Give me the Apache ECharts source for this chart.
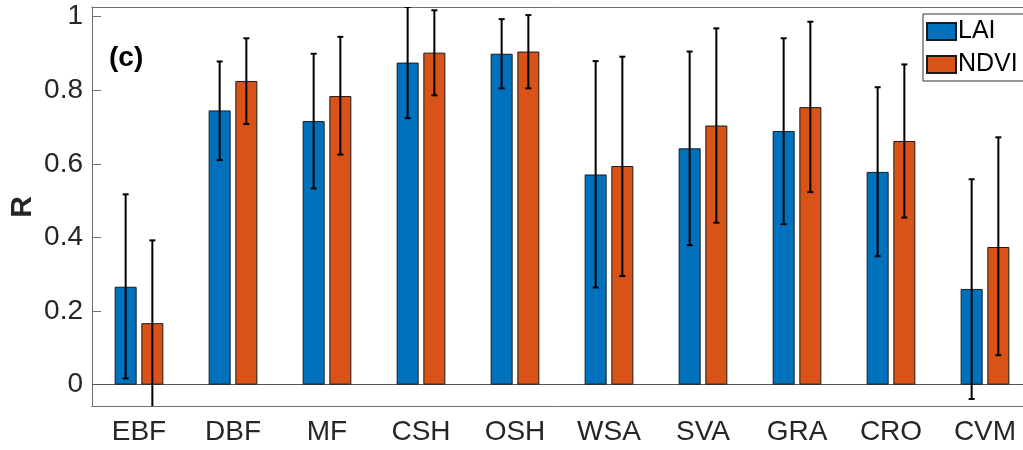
<!DOCTYPE html>
<html>
<head>
<meta charset="utf-8">
<script src="https://cdn.jsdelivr.net/npm/echarts@6/dist/echarts.min.js"></script>
<style>
  html, body { margin: 0; padding: 0; background: #fff; }
  #chart { width: 1023px; height: 450px; }
</style>
</head>
<body>
<div id="chart"></div>
<script>
// biome types
const categories = ['EBF', 'DBF', 'MF', 'CSH', 'OSH', 'WSA', 'SVA', 'GRA', 'CRO', 'CVM'];

// mean R per type
const laiValues  = [0.266, 0.745, 0.716, 0.875, 0.899, 0.571, 0.642, 0.689, 0.578, 0.260];
const ndviValues = [0.167, 0.825, 0.784, 0.902, 0.905, 0.594, 0.704, 0.754, 0.662, 0.374];

// error bar ends
const laiLow   = [0.017, 0.610, 0.533, 0.724, 0.805, 0.264, 0.379, 0.436, 0.349, -0.039];
const laiHigh  = [0.517, 0.878, 0.899, 1.026, 0.993, 0.879, 0.905, 0.941, 0.808, 0.558];
const ndviLow  = [-0.062, 0.708, 0.625, 0.786, 0.805, 0.295, 0.440, 0.523, 0.454, 0.080];
const ndviHigh = [0.392, 0.941, 0.945, 1.017, 1.004, 0.891, 0.968, 0.986, 0.870, 0.672];

const yTicks = [0, 0.2, 0.4, 0.6, 0.8, 1];

const FONT = '"Liberation Sans", Arial, Helvetica, sans-serif';
const AXIS_COLOR = '#6e6e6e';
const TEXT_COLOR = '#262626';
const BAR_W = 22;
const BAR_GAP = 4.7;

var chart = echarts.init(document.getElementById('chart'));

function errorBar(low, high, side) {
  return {
    type: 'custom',
    z: 10,
    silent: true,
    clip: true,
    data: categories.map(function (c, i) { return [i, low[i], high[i]]; }),
    renderItem: function (params, api) {
      var off = side * (BAR_W + BAR_GAP) / 2;
      var lo = api.coord([api.value(0), api.value(1)]);
      var hi = api.coord([api.value(0), api.value(2)]);
      var x = lo[0] + off;
      var cap = 3;
      var style = { stroke: '#000', lineWidth: 2 };
      return {
        type: 'group',
        children: [
          { type: 'line', shape: { x1: x, y1: lo[1], x2: x, y2: hi[1] }, style: style },
          { type: 'line', shape: { x1: x - cap, y1: lo[1], x2: x + cap, y2: lo[1] }, style: style },
          { type: 'line', shape: { x1: x - cap, y1: hi[1], x2: x + cap, y2: hi[1] }, style: style }
        ]
      };
    }
  };
}

var option = {
  animation: false,
  backgroundColor: '#fff',
  textStyle: { fontFamily: FONT },
  grid: { left: 92, right: -9, top: 7, bottom: 44, outerBoundsMode: 'none', containLabel: false },
  legend: {
    orient: 'vertical',
    left: 923,
    top: 14,
    padding: [5, 12, 4, 3],
    itemGap: 8,
    itemWidth: 29,
    itemHeight: 17,
    borderColor: '#333',
    borderWidth: 1,
    backgroundColor: '#fff',
    textStyle: { fontSize: 25, color: '#000', fontFamily: FONT, padding: [0, 0, 0, -3] },
    data: [
      { name: 'LAI', icon: 'rect' },
      { name: 'NDVI', icon: 'rect' }
    ]
  },
  graphic: [
    {
      type: 'text',
      left: 109,
      top: 44,
      style: { text: '(c)', font: 'bold 28px ' + FONT, fill: '#000' }
    },
    {
      // y axis title
      type: 'text',
      x: 23,
      y: 207,
      rotation: Math.PI / 2,
      style: {
        text: 'R', font: 'bold 30px ' + FONT, fill: TEXT_COLOR,
        align: 'center', verticalAlign: 'middle'
      }
    }
  ],
  xAxis: [
    {
      type: 'category',
      data: categories,
      position: 'bottom',
      axisLine: { onZero: false, lineStyle: { color: AXIS_COLOR, width: 1 } },
      axisTick: { inside: true, alignWithLabel: true, length: 9, lineStyle: { color: AXIS_COLOR } },
      axisLabel: { fontSize: 28, color: TEXT_COLOR, margin: 12, fontFamily: FONT }
    },
    {
      type: 'category',
      data: categories,
      position: 'top',
      axisLine: { onZero: false, lineStyle: { color: AXIS_COLOR, width: 1 } },
      axisTick: { inside: true, alignWithLabel: true, length: 9, lineStyle: { color: AXIS_COLOR } },
      axisLabel: { show: false }
    }
  ],
  yAxis: {
    type: 'value',
    min: -0.058,
    max: 1.026,
    axisLine: { show: true, lineStyle: { color: AXIS_COLOR, width: 1 } },
    axisTick: {
      show: true, inside: true, length: 9, lineStyle: { color: AXIS_COLOR },
      customValues: yTicks
    },
    axisLabel: {
      fontSize: 28, color: TEXT_COLOR, margin: 9, fontFamily: FONT,
      customValues: yTicks,
      formatter: function (v) { return String(Math.round(v * 10) / 10); }
    },
    splitLine: { show: false }
  },
  series: [
    {
      name: 'LAI',
      type: 'bar',
      data: laiValues,
      barWidth: BAR_W,
      barGap: (BAR_GAP / BAR_W * 100) + '%',
      itemStyle: { color: '#0072BD', borderColor: '#1a1a1a', borderWidth: 1 },
      markLine: {
        silent: true,
        symbol: 'none',
        label: { show: false },
        lineStyle: { color: '#555', type: 'solid', width: 1 },
        data: [{ yAxis: 0 }],
        z: 1
      }
    },
    {
      name: 'NDVI',
      type: 'bar',
      data: ndviValues,
      barWidth: BAR_W,
      barGap: (BAR_GAP / BAR_W * 100) + '%',
      itemStyle: { color: '#D95319', borderColor: '#1a1a1a', borderWidth: 1 }
    },
    errorBar(laiLow, laiHigh, -1),
    errorBar(ndviLow, ndviHigh, 1)
  ]
};

chart.setOption(option);
</script>
</body>
</html>
